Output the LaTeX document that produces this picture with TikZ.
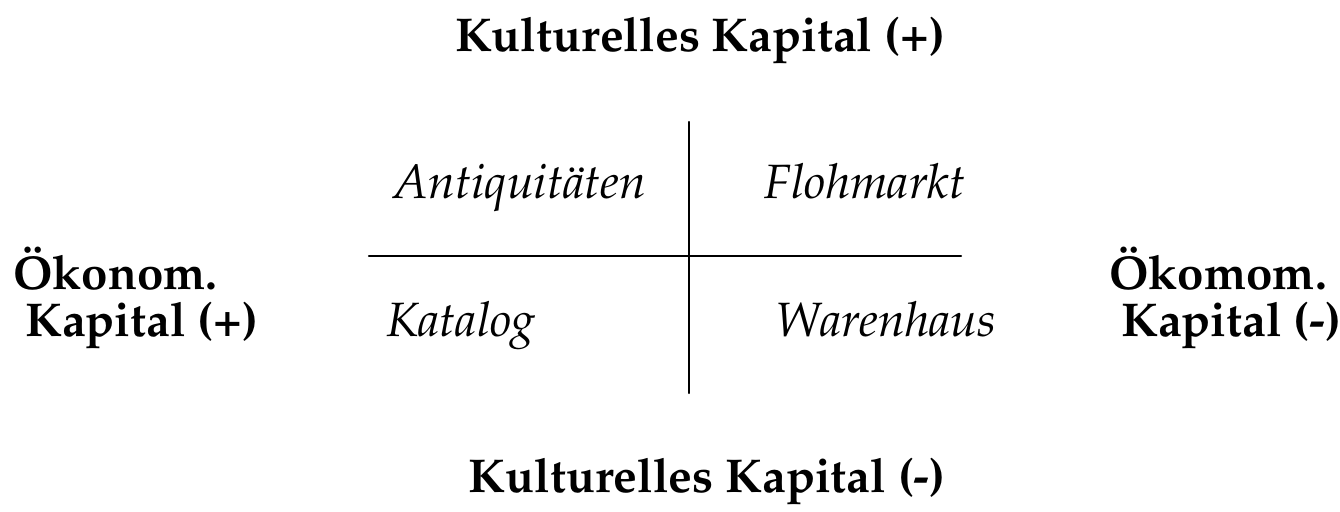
\documentclass[tikz,border=0pt]{standalone}
\usepackage[T1]{fontenc}
\usepackage{mathpazo}
\usepackage{tikz}
\usepackage{tkz-euclide}

\begin{document}
\begin{tikzpicture}[scale=0.4,
    achse/.style={font=\fontsize{27}{27.2}\selectfont\bfseries, inner sep=0pt},
    feld/.style={font=\fontsize{27.4}{29}\selectfont\itshape, inner sep=0pt, anchor=base}]
    \useasboundingbox (0,0) rectangle (67,25.6);

    \tkzDefPoint(34.45,19.5){O1}
    \tkzDefPoint(34.45,5.95){O2}
    \tkzDefPoint(18.45,12.8){W1}
    \tkzDefPoint(48.05,12.8){W2}
    \tkzDrawSegments[line width=1.3pt](O1,O2 W1,W2)

    \node[achse, anchor=base] (KKp) at (35,23.0) {Kulturelles Kapital (+)};
    \node[achse, anchor=base] (KKm) at (35.35,0.95) {Kulturelles Kapital (-)};

    \node[achse, anchor=base west, align=left] (OKp) at (0.65,8.75) {Ökonom.\\~Kapital (+)};
    \node[achse, anchor=base west, align=left] (OKm) at (55.45,8.75) {Ökomom.\\~Kapital (-)};

    \node[feld] (Anti) at (26.0,15.65) {Antiquitäten};
    \node[feld] (Floh) at (43.25,15.65) {Flohmarkt};
    \node[feld] (Kata) at (23.05,8.75) {Katalog};
    \node[feld] (Waren) at (44.3,8.75) {Warenhaus};
\end{tikzpicture}
\end{document}
